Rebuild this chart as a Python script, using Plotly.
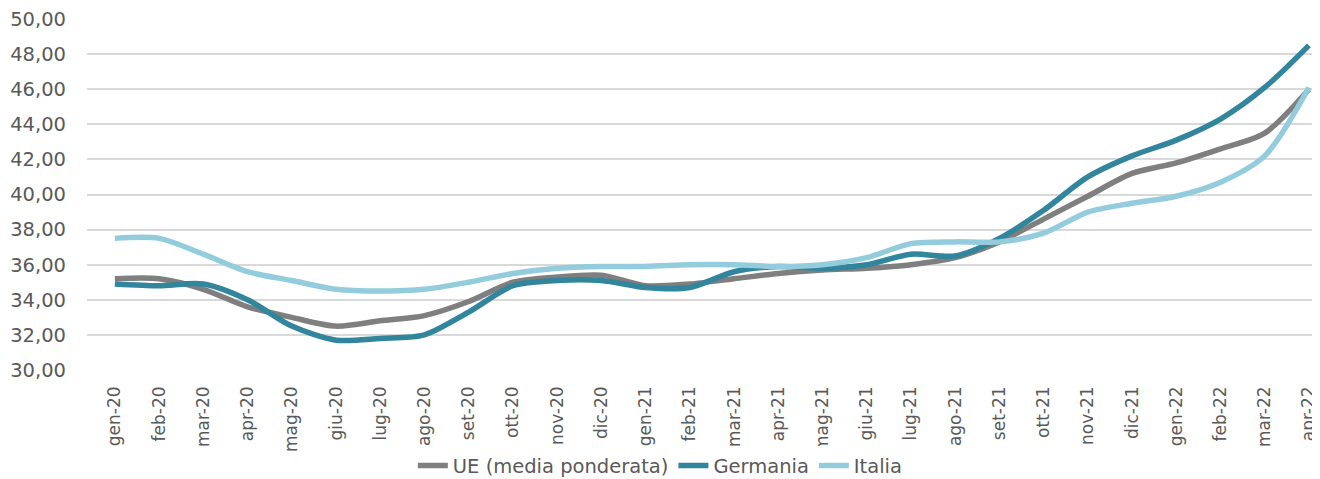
import plotly.graph_objects as go

months = ["gen-20", "feb-20", "mar-20", "apr-20", "mag-20", "giu-20", "lug-20", "ago-20",
          "set-20", "ott-20", "nov-20", "dic-20", "gen-21", "feb-21", "mar-21", "apr-21",
          "mag-21", "giu-21", "lug-21", "ago-21", "set-21", "ott-21", "nov-21", "dic-21",
          "gen-22", "feb-22", "mar-22", "apr-22"]

ue = [35.2, 35.2, 34.6, 33.6, 33.0, 32.5, 32.8, 33.1, 33.9, 35.0, 35.3, 35.4, 34.8, 34.9,
      35.2, 35.5, 35.7, 35.8, 36.0, 36.4, 37.3, 38.6, 39.9, 41.2, 41.8, 42.6, 43.5, 46.0]
germania = [34.9, 34.8, 34.9, 34.0, 32.5, 31.7, 31.8, 32.0, 33.3, 34.8, 35.1, 35.1, 34.7, 34.7,
            35.6, 35.9, 35.8, 36.0, 36.6, 36.5, 37.5, 39.1, 41.0, 42.2, 43.1, 44.3, 46.1, 48.5]
italia = [37.5, 37.5, 36.6, 35.6, 35.1, 34.6, 34.5, 34.6, 35.0, 35.5, 35.8, 35.9, 35.9, 36.0,
          36.0, 35.9, 36.0, 36.4, 37.2, 37.3, 37.3, 37.8, 39.0, 39.5, 39.9, 40.7, 42.2, 46.1]

y_ticks = [30, 32, 34, 36, 38, 40, 42, 44, 46, 48, 50]

series = [
    ("UE (media ponderata)", ue, "#7F7F7F"),
    ("Germania", germania, "#31859C"),
    ("Italia", italia, "#93CDDD"),
]

fig = go.Figure()
for name, vals, color in series:
    fig.add_trace(go.Scatter(
        x=months, y=vals, name=name, mode="lines",
        line=dict(color=color, width=5.5, shape="spline", smoothing=0.8),
    ))

# the page body adds an 8px offset; compensate in the figure size/margins
fig.update_layout(
    width=1312, height=471,
    margin=dict(l=79, r=0, t=11, b=109),
    paper_bgcolor="white", plot_bgcolor="white",
    separators=",.",
    font=dict(family="DejaVu Sans", color="#595959"),
    showlegend=True,
    legend=dict(orientation="h", x=0.465, xanchor="center",
                yref="container", y=0.028, yanchor="middle",
                font=dict(size=19.5, color="#595959"),
                traceorder="normal"),
    xaxis=dict(
        type="category", range=[-0.63, 27.25], automargin=False,
        tickangle=-90, tickfont=dict(size=17, color="#595959"),
        showgrid=False, showline=False, ticks="", zeroline=False,
        ticklabelstandoff=12, ticklabeloverflow="allow",
    ),
    yaxis=dict(
        range=[29.999, 50.001], tickvals=y_ticks, tickformat=".2f", automargin=False,
        tickfont=dict(size=19.5, color="#595959"),
        showgrid=True, gridcolor="#D9D9D9", gridwidth=1.5,
        zeroline=False, showline=False, ticks="", ticklabelstandoff=20,
        ticklabeloverflow="allow",
    ),
)

fig.write_html("out.html")
